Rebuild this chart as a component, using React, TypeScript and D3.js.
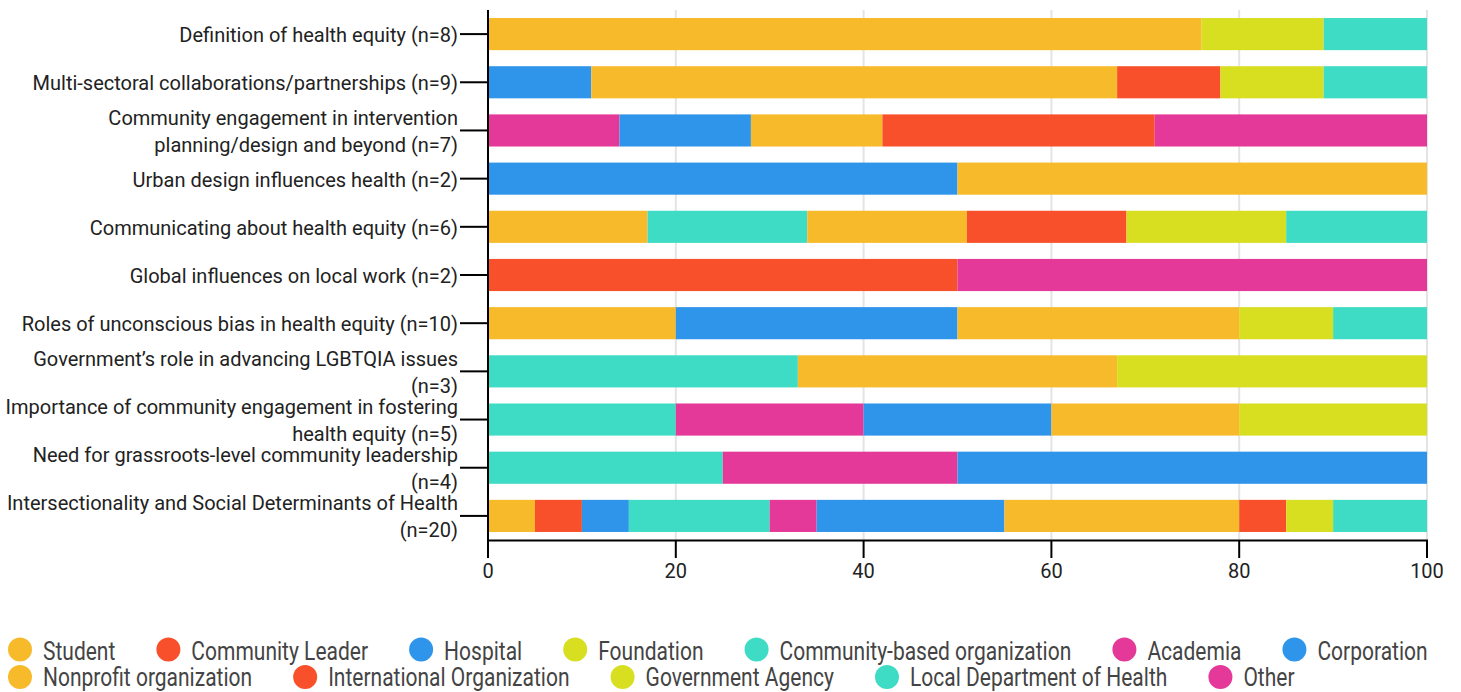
import React, { useEffect, useRef } from 'react';
import * as d3 from 'd3';

const categories = [
  'Definition of health equity (n=8)',
  'Multi-sectoral collaborations/partnerships (n=9)',
  'Community engagement in intervention planning/design and beyond (n=7)',
  'Urban design influences health (n=2)',
  'Communicating about health equity (n=6)',
  'Global influences on local work (n=2)',
  'Roles of unconscious bias in health equity (n=10)',
  'Government\u2019s role in advancing LGBTQIA issues (n=3)',
  'Importance of community engagement in fostering health equity (n=5)',
  'Need for grassroots-level community leadership (n=4)',
  'Intersectionality and Social Determinants of Health (n=20)',
];

const seriesNames = [
  'Student', 'Community Leader', 'Hospital', 'Foundation', 'Community-based organization',
  'Academia', 'Corporation', 'Nonprofit organization', 'International Organization',
  'Government Agency', 'Local Department of Health', 'Other',
];

const seriesColors = [
  '#F7BA2B', '#F7502B', '#2F95EA', '#D8DF21', '#3EDCC4',
  '#E5399A', '#2F95EA', '#F7BA2B', '#F7502B', '#D8DF21', '#3EDCC4', '#E5399A',
];

const student = [0, 0, 0, 0, 17, 0, 20, 0, 0, 0, 5];
const communityLeader = [0, 0, 0, 0, 0, 0, 0, 0, 0, 0, 5];
const hospital = [0, 0, 0, 0, 0, 0, 0, 0, 0, 0, 5];
const foundation = [0, 0, 0, 0, 0, 0, 0, 0, 0, 0, 0];
const communityBased = [0, 0, 0, 0, 17, 0, 0, 33, 20, 25, 15];
const academia = [0, 0, 14, 0, 0, 0, 0, 0, 20, 25, 5];
const corporation = [0, 11, 14, 50, 0, 0, 30, 0, 20, 50, 20];
const nonprofit = [76, 56, 14, 50, 17, 0, 30, 34, 20, 0, 25];
const international = [0, 11, 29, 0, 17, 50, 0, 0, 0, 0, 5];
const government = [13, 11, 0, 0, 17, 0, 10, 33, 20, 0, 5];
const localDept = [11, 11, 0, 0, 15, 0, 10, 0, 0, 0, 10];
const other = [0, 0, 29, 0, 0, 50, 0, 0, 0, 0, 0];

const seriesValues = [
  student, communityLeader, hospital, foundation, communityBased, academia,
  corporation, nonprofit, international, government, localDept, other,
];

const xTicks = [0, 20, 40, 60, 80, 100];

const FONT = 'Roboto, "Noto Sans", sans-serif';

export default function App() {
  const ref = useRef<SVGSVGElement>(null);

  useEffect(() => {
    const draw = () => {
      const svg = d3.select(ref.current);
      svg.selectAll('*').remove();

      const x = d3.scaleLinear().domain([0, 100]).range([488, 1427]);
      const y = d3.scaleBand<string>().domain(categories).range([10, 540]).paddingInner(1 / 3).paddingOuter(1 / 6);

      // gridlines
      svg.append('g').selectAll('line').data(xTicks.filter((t) => t > 0)).join('line')
        .attr('x1', (d) => x(d)).attr('x2', (d) => x(d))
        .attr('y1', 10).attr('y2', 540)
        .attr('stroke', '#e4e4e4').attr('stroke-width', 2);

      const keys = seriesNames.map((_, i) => 's' + i);
      const rows = categories.map((c, i) => {
        const r: any = { cat: c };
        keys.forEach((k, j) => { r[k] = seriesValues[j][i]; });
        return r;
      });
      const stacked = d3.stack<any>().keys(keys)(rows);

      svg.append('g').selectAll('g').data(stacked).join('g')
        .attr('fill', (_, i) => seriesColors[i])
        .selectAll('rect').data((d) => d).join('rect')
        .attr('x', (d) => x(d[0]))
        .attr('width', (d) => x(d[1]) - x(d[0]))
        .attr('y', (d) => y(d.data.cat) as number)
        .attr('height', y.bandwidth());

      // y axis
      const ax = svg.append('g');
      ax.append('line').attr('x1', 488).attr('x2', 488).attr('y1', 10).attr('y2', 541.5)
        .attr('stroke', '#000').attr('stroke-width', 2);
      ax.selectAll('line.tick').data(categories).join('line').attr('class', 'tick')
        .attr('x1', 460).attr('x2', 488)
        .attr('y1', (d) => (y(d) as number) + y.bandwidth() / 2)
        .attr('y2', (d) => (y(d) as number) + y.bandwidth() / 2)
        .attr('stroke', '#000').attr('stroke-width', 2);

      const maxW = 456;
      const lineH = 27;
      categories.forEach((c) => {
        const cy = (y(c) as number) + y.bandwidth() / 2;
        const t = ax.append('text').attr('font-family', FONT).attr('font-size', 20)
          .attr('fill', '#222').attr('text-anchor', 'end');
        const words = c.split(' ');
        const lines: string[] = [];
        let cur = '';
        const probe = t.append('tspan');
        words.forEach((w) => {
          const test = cur ? cur + ' ' + w : w;
          probe.text(test);
          if ((probe.node() as SVGTSpanElement).getComputedTextLength() > maxW && cur) {
            lines.push(cur);
            cur = w;
          } else {
            cur = test;
          }
        });
        lines.push(cur);
        probe.remove();
        const base = cy + 8 - ((lines.length - 1) * lineH) / 2;
        lines.forEach((l, i) => {
          t.append('tspan').attr('x', 458).attr('y', base + i * lineH).text(l);
        });
      });

      // x axis
      const bx = svg.append('g');
      bx.append('line').attr('x1', 487).attr('x2', 1428).attr('y1', 540.5).attr('y2', 540.5)
        .attr('stroke', '#000').attr('stroke-width', 2);
      bx.selectAll('line.t').data(xTicks).join('line').attr('class', 't')
        .attr('x1', (d) => x(d)).attr('x2', (d) => x(d)).attr('y1', 540).attr('y2', 558)
        .attr('stroke', '#000').attr('stroke-width', 2);
      bx.selectAll('text').data(xTicks).join('text')
        .attr('x', (d) => x(d)).attr('y', 578)
        .attr('text-anchor', 'middle').attr('font-family', FONT).attr('font-size', 20).attr('fill', '#222')
        .text((d) => String(d));

      // legend (flow layout)
      const lg = svg.append('g');
      const sx = 0.84;
      let cx = 8;
      let row = 0;
      const rowCircleY = [649.5, 677];
      const rowBase = [660, 686];
      seriesNames.forEach((name, i) => {
        const g = lg.append('g');
        const tg = g.append('g');
        const txt = tg.append('text').attr('font-family', FONT).attr('font-size', 25)
          .attr('fill', '#444').text(name);
        const w = (txt.node() as SVGTextElement).getComputedTextLength() * sx;
        if (cx + 35 + w > 1453) {
          row += 1;
          cx = 8;
        }
        g.append('circle').attr('cx', cx + 12).attr('cy', rowCircleY[row]).attr('r', 12)
          .attr('fill', seriesColors[i]);
        tg.attr('transform', `translate(${cx + 35},${rowBase[row]}) scale(${sx},1)`);
        cx = cx + 35 + w + 41;
      });
    };
    if ((document as any).fonts && (document as any).fonts.load) {
      Promise.all([
        (document as any).fonts.load('20px Roboto'),
        (document as any).fonts.load('25px Roboto'),
      ]).then(draw, draw);
    } else {
      draw();
    }
  }, []);

  return (
    <svg
      ref={ref}
      width={1461}
      height={692}
      style={{ position: 'absolute', left: 0, top: 0, display: 'block' }}
    />
  );
}
